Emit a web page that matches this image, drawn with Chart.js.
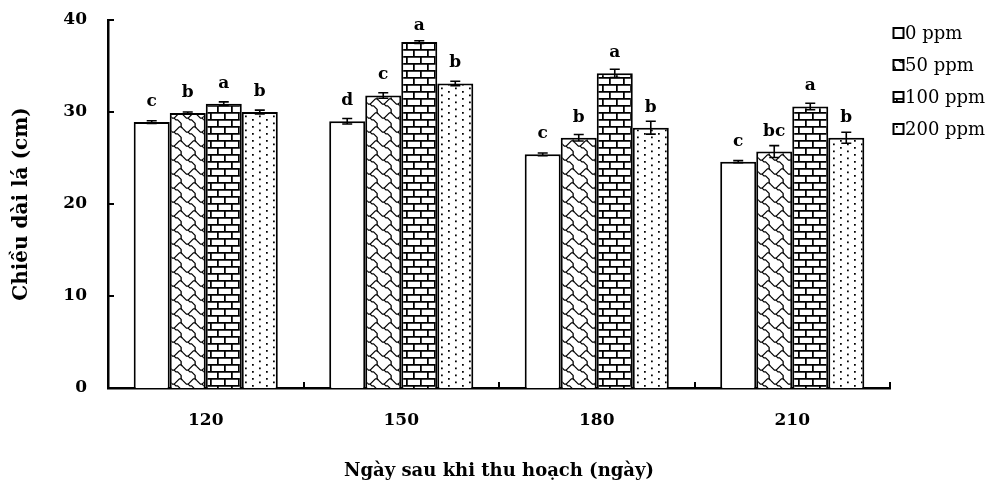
<!DOCTYPE html>
<html>
<head>
<meta charset="utf-8">
<script src="https://cdn.jsdelivr.net/npm/chart.js@4/dist/chart.umd.min.js"></script>
<style>
  html, body { margin: 0; padding: 0; background: #fff; }
  #wrap { width: 997px; height: 488px; }
</style>
</head>
<body>
<div id="wrap"><canvas id="c" width="997" height="488"></canvas></div>
<script>
// Days after harvest (categories)
const days = ['120', '150', '180', '210'];
const seriesNames = ['0 ppm', '50 ppm', '100 ppm', '200 ppm'];

// Mean leaf length (cm) per treatment
const ppm0   = [28.9, 29.0, 25.4, 24.6];
const ppm50  = [29.9, 31.8, 27.2, 25.7];
const ppm100 = [30.9, 37.6, 34.2, 30.6];
const ppm200 = [30.0, 33.1, 28.3, 27.2];

// Standard errors
const err0   = [0.15, 0.3, 0.15, 0.12];
const err50  = [0.1, 0.3, 0.35, 0.65];
const err100 = [0.2, 0.15, 0.45, 0.35];
const err200 = [0.2, 0.25, 0.7, 0.6];

// Significance letters
const sig0   = ['c', 'd', 'c', 'c'];
const sig50  = ['b', 'c', 'b', 'bc'];
const sig100 = ['a', 'a', 'a', 'a'];
const sig200 = ['b', 'b', 'b', 'b'];

const yTicks = [0, 10, 20, 30, 40];

const FONT = "'DejaVu Serif', 'Liberation Serif', serif";

// ---- fill patterns (8x8 cell bitmaps drawn at 1.75x) ----
const K = 1.75, T = 14;
function tile(draw) {
  const c = document.createElement('canvas');
  c.width = T; c.height = T;
  const g = c.getContext('2d');
  g.fillStyle = '#fff';
  g.fillRect(0, 0, T, T);
  draw(g);
  return c;
}
function makePattern(canvas) {
  return document.createElement('canvas').getContext('2d').createPattern(canvas, 'repeat');
}
const whiteFill = '#ffffff';
const shingleTile = tile(g => {
  const a = [[0,1],[1,2],[2,3],[3,3],[4,2],[5,1],[6,0],[7,0],[8,1]];
  const b = [[3,3],[4,4],[5,4],[6,5],[7,6],[7,7],[7,8]];
  g.strokeStyle = '#000';
  g.lineWidth = 1.3;
  g.lineJoin = 'round';
  for (let dx = -8; dx <= 8; dx += 8) {
    for (let dy = -8; dy <= 8; dy += 8) {
      [a, b].forEach(pts => {
        g.beginPath();
        pts.forEach(([px, py], i) => {
          const X = (px + dx + 0.5) * K, Y = (py + dy + 0.5) * K;
          if (i === 0) g.moveTo(X, Y); else g.lineTo(X, Y);
        });
        g.stroke();
      });
    }
  }
});
const brickTile = tile(g => {
  g.fillStyle = '#000';
  g.fillRect(0, 0, T, K);
  g.fillRect(0, 4 * K, T, K);
  g.fillRect(0, 0, K, 4 * K);
  g.fillRect(4 * K, 4 * K, K, 4 * K);
});
const dotTile = tile(g => {
  g.fillStyle = '#000';
  [[0,0],[4,2],[0,4],[4,6]].forEach(([px, py]) => g.fillRect(px * K, py * K, K, K));
});
const fills = [whiteFill, makePattern(shingleTile), makePattern(brickTile), makePattern(dotTile)];

const values = [ppm0, ppm50, ppm100, ppm200];
const errs = [err0, err50, err100, err200];
const sigs = [sig0, sig50, sig100, sig200];

// error bars, significance letters, inward tick marks and the legend
const annotations = {
  id: 'annotations',
  afterDatasetsDraw(chart) {
    const { ctx, chartArea, scales: { x, y } } = chart;
    ctx.save();
    ctx.strokeStyle = '#000';
    ctx.lineWidth = 2;
    yTicks.forEach(v => {
      const py = Math.round(y.getPixelForValue(v));
      ctx.beginPath();
      ctx.moveTo(chartArea.left, py);
      ctx.lineTo(chartArea.left + 6, py);
      ctx.stroke();
    });
    const n = days.length;
    const w = (chartArea.right - chartArea.left) / n;
    for (let i = 1; i <= n; i++) {
      const px = Math.round(chartArea.left + i * w);
      ctx.beginPath();
      ctx.moveTo(px, chartArea.bottom);
      ctx.lineTo(px, chartArea.bottom - 6);
      ctx.stroke();
    }
    chart.data.datasets.forEach((ds, i) => {
      const meta = chart.getDatasetMeta(i);
      meta.data.forEach((bar, j) => {
        const v = ds.data[j], e = errs[i][j];
        const top = y.getPixelForValue(v + e);
        const bot = y.getPixelForValue(v - e);
        ctx.lineWidth = 1.6;
        ctx.beginPath();
        ctx.moveTo(bar.x, top); ctx.lineTo(bar.x, bot);
        ctx.moveTo(bar.x - 5, top); ctx.lineTo(bar.x + 5, top);
        ctx.moveTo(bar.x - 5, bot); ctx.lineTo(bar.x + 5, bot);
        ctx.stroke();
        ctx.fillStyle = '#000';
        ctx.font = `bold 17px ${FONT}`;
        ctx.textAlign = 'center';
        ctx.textBaseline = 'alphabetic';
        const ly = Math.max(bar.y - 16, chartArea.top + 10);
        ctx.fillText(sigs[i][j], bar.x, ly);
      });
    });
    ctx.restore();
  },
  afterDraw(chart) {
    const { ctx, chartArea } = chart;
    ctx.save();
    const bx = chartArea.right + 3.5;
    chart.data.datasets.forEach((ds, i) => {
      const cy = chartArea.top + 13 + i * 32;
      ctx.fillStyle = ds.backgroundColor;
      ctx.fillRect(bx, cy - 5, 10, 10);
      ctx.strokeStyle = '#000';
      ctx.lineWidth = 2;
      ctx.strokeRect(bx, cy - 5, 10, 10);
      ctx.fillStyle = '#000';
      ctx.font = `18px ${FONT}`;
      ctx.textAlign = 'left';
      ctx.textBaseline = 'middle';
      ctx.fillText(ds.label, bx + 11.5, cy + 1);
    });
    ctx.restore();
  }
};

new Chart(document.getElementById('c'), {
  type: 'bar',
  data: {
    labels: days,
    datasets: values.map((vals, i) => ({
      label: seriesNames[i],
      data: vals,
      backgroundColor: fills[i],
      borderColor: '#000',
      borderWidth: 2,
      categoryPercentage: 0.737,
      barPercentage: 1.0
    }))
  },
  options: {
    responsive: false,
    animation: false,
    devicePixelRatio: 1,
    layout: { padding: { top: 20, right: 107, bottom: 0, left: 0 } },
    plugins: {
      legend: { display: false },
      tooltip: { enabled: false }
    },
    scales: {
      x: {
        afterFit: s => { s.height = 100; },
        grid: { display: false, drawTicks: false },
        border: { display: true, color: '#000', width: 2.5 },
        ticks: { color: '#000', padding: 22, font: { family: FONT, size: 17, weight: 'bold' } },
        title: {
          display: true,
          text: 'Ngày sau khi thu hoạch (ngày)',
          color: '#000',
          font: { family: FONT, size: 18, weight: 'bold' },
          padding: { top: 0, bottom: 6 }
        }
      },
      y: {
        min: 0,
        max: 40,
        afterFit: s => { s.width = 108; s.paddingTop = 0; },
        grid: { display: false, drawTicks: false },
        border: { display: true, color: '#000', width: 2.5 },
        ticks: { color: '#000', stepSize: 10, padding: 21, font: { family: FONT, size: 17, weight: 'bold' } },
        title: {
          display: true,
          text: 'Chiều dài lá (cm)',
          color: '#000',
          font: { family: FONT, size: 20, weight: 'bold' },
          padding: { top: 10, bottom: 0 }
        }
      }
    }
  },
  plugins: [annotations]
});
</script>
</body>
</html>
